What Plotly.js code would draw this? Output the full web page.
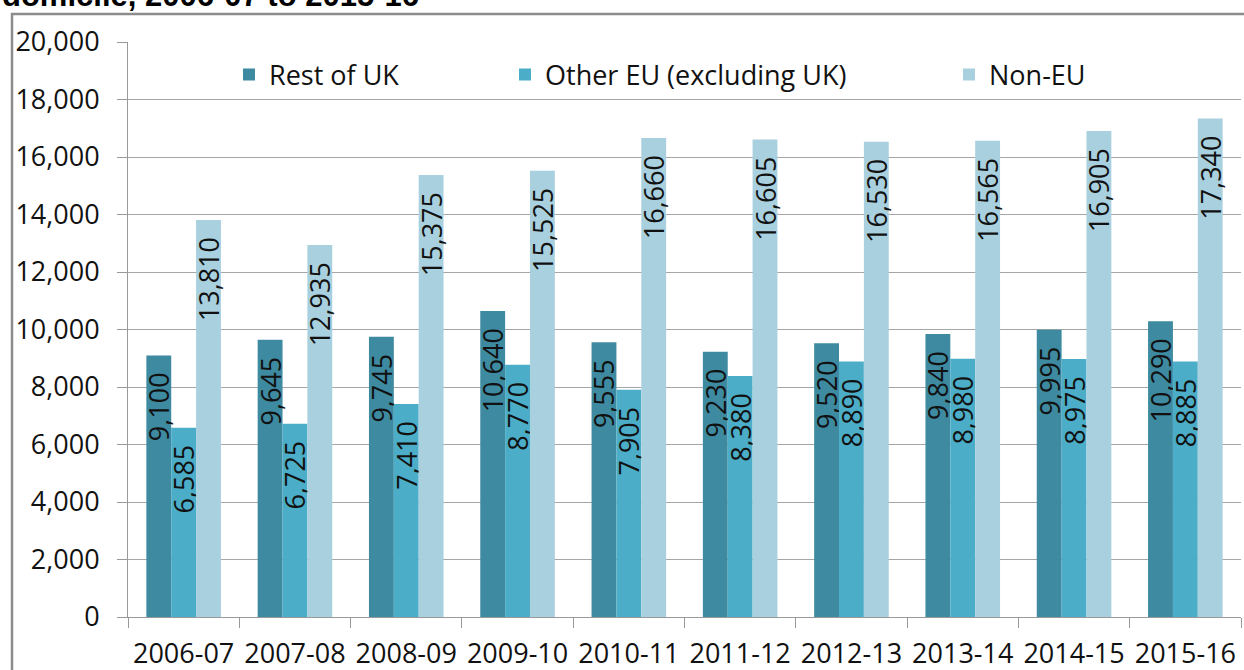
<!DOCTYPE html>
<html>
<head>
<meta charset="utf-8">
<script src="https://cdn.plot.ly/plotly-3.0.1.min.js"></script>
<style>html,body{margin:0;padding:0;background:#fff;}#chart{width:1244px;height:670px;}</style>
</head>
<body>
<div id="chart"></div>
<script>
const years = ["2006-07","2007-08","2008-09","2009-10","2010-11","2011-12","2012-13","2013-14","2014-15","2015-16"];
const restOfUK = [9100, 9645, 9745, 10640, 9555, 9230, 9520, 9840, 9995, 10290];
const otherEU = [6585, 6725, 7410, 8770, 7905, 8380, 8890, 8980, 8975, 8885];
const nonEU = [13810, 12935, 15375, 15525, 16660, 16605, 16530, 16565, 16905, 17340];
const seriesNames = ["Rest of UK", "Other EU (excluding UK)", "Non-EU"];
const yTicks = [0, 2000, 4000, 6000, 8000, 10000, 12000, 14000, 16000, 18000, 20000];
const titleText = "domicile, 2006-07 to 2015-16";

const colors = ["#3d8aa1", "#4badc7", "#a9d0de"];
const FONT = "'Open Sans', Lato, sans-serif";
const W = 1244, H = 670;
const mL = 128, mR = 3, mT = 42, mB = 53;
const pw = W - mL - mR, ph = H - mT - mB;
const px = x => (x - mL) / pw;
const py = y => 1 - (y - mT) / ph;

function mk(vals, i, leg) {
  return {
    type: "bar", x: years, y: vals, name: seriesNames[i],
    marker: {color: colors[i]},
    texttemplate: "%{y:,}\u00a0\u00a0",
    textposition: "inside", insidetextanchor: "end", textangle: -90,
    constraintext: "none",
    textfont: {family: FONT, size: 27, color: "#111"},
    legend: leg, hoverinfo: "skip"
  };
}
const data = [mk(restOfUK, 0, "legend"), mk(otherEU, 1, "legend2"), mk(nonEU, 2, "legend3")];

const legBase = {orientation: "h", yanchor: "middle", xanchor: "left", y: py(75),
  font: {family: FONT, size: 27, color: "#111"}, bgcolor: "rgba(0,0,0,0)"};

const layout = {
  width: W, height: H,
  margin: {l: mL, r: mR, t: mT, b: mB},
  paper_bgcolor: "#fff", plot_bgcolor: "#fff",
  barmode: "group", bargap: 0.33, bargroupgap: 0,
  showlegend: true,
  legend: Object.assign({}, legBase, {x: px(229)}),
  legend2: Object.assign({}, legBase, {x: px(505)}),
  legend3: Object.assign({}, legBase, {x: px(949)}),
  xaxis: {
    type: "category", tickson: "boundaries", ticks: "outside", ticklen: 10,
    tickcolor: "#999", showline: true, linecolor: "#999", linewidth: 1,
    showgrid: false, tickfont: {family: FONT, size: 27, color: "#111"},
    ticklabelstandoff: 13
  },
  yaxis: {
    range: [0, 20000], tickvals: yTicks, tickformat: ",", ticks: "outside", ticklen: 10,
    tickcolor: "#999", showline: true, linecolor: "#999", linewidth: 1,
    showgrid: true, gridcolor: "#a6a6a6", gridwidth: 1, zeroline: false,
    tickfont: {family: FONT, size: 27, color: "#111"}, ticklabelstandoff: 12
  },
  shapes: [{type: "rect", xref: "paper", yref: "paper",
    x0: px(12), x1: px(1260), y0: py(700), y1: py(14),
    line: {color: "#8c8c8c", width: 2.5}, layer: "below"}],
  annotations: [{xref: "paper", yref: "paper", x: px(0), y: py(-4), xanchor: "left", yanchor: "middle",
    text: "<b>" + titleText + "</b>", showarrow: false,
    font: {family: "'Liberation Sans', Arial, sans-serif", size: 31, color: "#000"}}]
};

Plotly.newPlot("chart", data, layout, {displayModeBar: false, staticPlot: true});
</script>
</body>
</html>
